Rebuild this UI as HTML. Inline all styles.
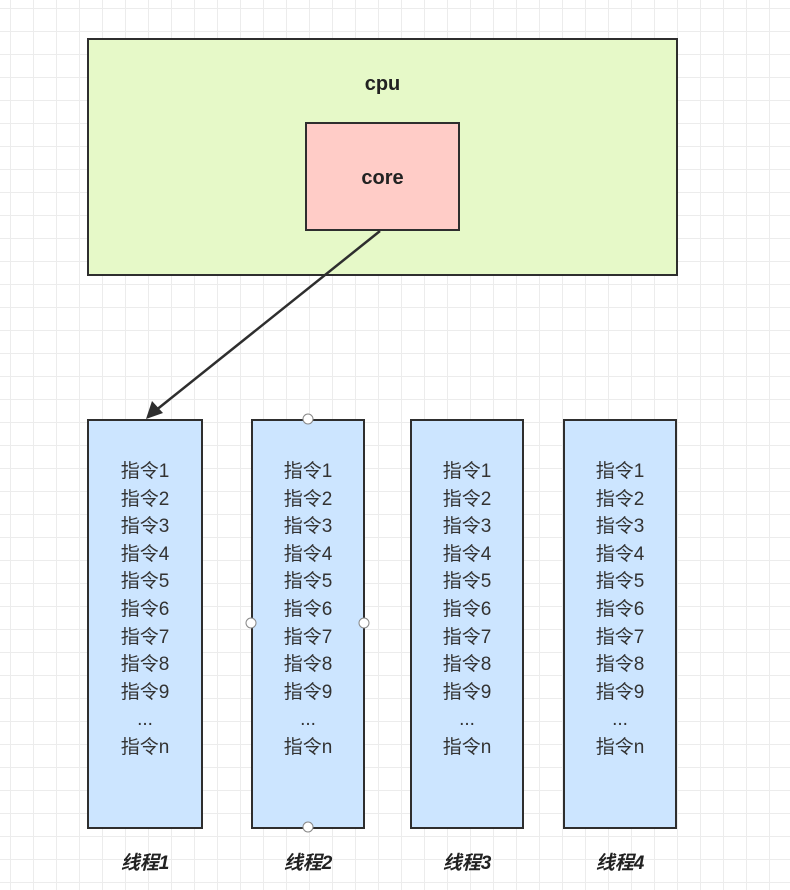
<!DOCTYPE html>
<html><head><meta charset="utf-8"><style>
body{margin:0;width:790px;height:890px;overflow:hidden;background:#fff;
background-image:linear-gradient(#ececec 1px,transparent 1px),linear-gradient(90deg,#ececec 1px,transparent 1px);background-size:23px 23px;background-position:10px 8px;font-family:"Liberation Sans","Noto Sans CJK SC",sans-serif}
.b{position:absolute;box-sizing:border-box;border:2px solid #2e2e2e}
.t{position:absolute;background:#cce5ff;top:419px;height:410px;text-align:center;color:#333;font-size:19px;line-height:27.6px;padding-top:37px}
.l{position:absolute;top:848px;font-size:19px;font-weight:bold;font-style:italic;color:#222;width:120px;text-align:center}
</style></head><body>
<div class="b" style="left:87px;top:38px;width:591px;height:238px;background:#e6f9c8"></div>
<div style="position:absolute;left:87px;top:73px;width:591px;text-align:center;font-weight:bold;font-size:20px;color:#222">cpu</div>
<div class="b" style="left:305px;top:122px;width:155px;height:109px;background:#ffccc7;text-align:center;line-height:109px;font-weight:bold;font-size:20px;color:#222">core</div>
<svg style="position:absolute;left:0;top:0" width="790" height="890"><line x1="380" y1="231" x2="155" y2="411" stroke="#2e2e2e" stroke-width="2.5"/><polygon points="146,419 152,401 163,413" fill="#2e2e2e"/></svg>
<div class="b t" style="left:87px;width:116px">指令1<br>指令2<br>指令3<br>指令4<br>指令5<br>指令6<br>指令7<br>指令8<br>指令9<br>...<br>指令n</div>
<div class="b t" style="left:251px;width:114px">指令1<br>指令2<br>指令3<br>指令4<br>指令5<br>指令6<br>指令7<br>指令8<br>指令9<br>...<br>指令n</div>
<div class="b t" style="left:410px;width:114px">指令1<br>指令2<br>指令3<br>指令4<br>指令5<br>指令6<br>指令7<br>指令8<br>指令9<br>...<br>指令n</div>
<div class="b t" style="left:563px;width:114px">指令1<br>指令2<br>指令3<br>指令4<br>指令5<br>指令6<br>指令7<br>指令8<br>指令9<br>...<br>指令n</div>
<svg style="position:absolute;left:0;top:0" width="790" height="890" fill="#fff" stroke="#888" stroke-width="1"><circle cx="308" cy="419" r="5"/><circle cx="308" cy="827" r="5"/><circle cx="251" cy="623" r="5"/><circle cx="364" cy="623" r="5"/></svg>
<div class="l" style="left:85px">线程1</div>
<div class="l" style="left:248px">线程2</div>
<div class="l" style="left:407px">线程3</div>
<div class="l" style="left:560px">线程4</div>
</body></html>
